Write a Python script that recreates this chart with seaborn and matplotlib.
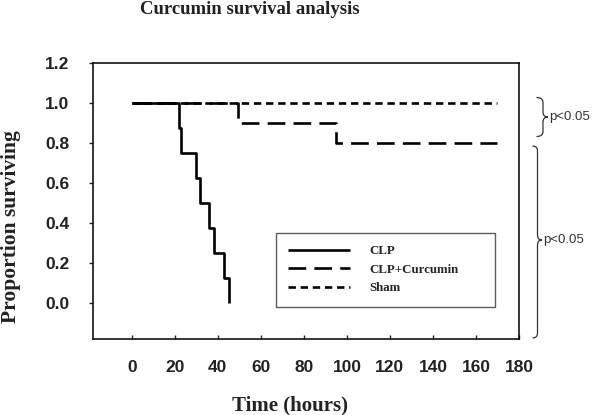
import numpy as np
import pandas as pd
import matplotlib
matplotlib.use("Agg")
import matplotlib.pyplot as plt
from matplotlib.path import Path
from matplotlib.patches import PathPatch
import seaborn as sns

# ---- data ----
groups = ["Sham", "CLP+Curcumin", "CLP"]
sham_t = [0, 170]
sham_s = [1.0, 1.0]
cur_t = [0, 49.5, 95, 170]
cur_s = [1.0, 0.9, 0.8, 0.8]
clp_t = [0, 22, 23, 30, 31.7, 36, 38.4, 43, 45]
clp_s = [1.0, 0.875, 0.75, 0.625, 0.5, 0.375, 0.25, 0.125, 0.0]
legend_order = ["CLP", "CLP+Curcumin", "Sham"]
xticks = [0, 20, 40, 60, 80, 100, 120, 140, 160, 180]
yticks = [0.0, 0.2, 0.4, 0.6, 0.8, 1.0, 1.2]
pval_labels = ["p<0.05", "p<0.05"]

df = pd.concat([
    pd.DataFrame({"t": sham_t, "s": sham_s, "g": "Sham"}),
    pd.DataFrame({"t": cur_t, "s": cur_s, "g": "CLP+Curcumin"}),
    pd.DataFrame({"t": clp_t, "s": clp_s, "g": "CLP"}),
], ignore_index=True)

sns.set_theme(style="white")
plt.rcParams["font.family"] = ["Liberation Sans", "DejaVu Sans"]

W, H = 600, 415
fig = plt.figure(figsize=(6, 4.15), dpi=100)
ax = fig.add_axes([93 / W, 1 - 339 / H, (519 - 93) / W, (339 - 62.7) / H])

dash_map = {"CLP": "", "CLP+Curcumin": (6.7, 3.1), "Sham": (2.8, 1.8)}
for g in groups:
    sub = df[df.g == g]
    sns.lineplot(data=sub, x="t", y="s", ax=ax, color="black", lw=1.9,
                 drawstyle="steps-post", estimator=None, legend=False)
    line = ax.get_lines()[-1]
    line.set_label(g)
    if dash_map[g]:
        line.set_dashes(dash_map[g])
    line.set_solid_capstyle("butt")
    line.set_dash_capstyle("butt")

ax.set_xlim(-18, 180)
ax.set_ylim(-0.1815, 1.2)
ax.set_xticks(xticks)
ax.set_xticklabels([str(v) for v in xticks])
ax.set_yticks(yticks)
ax.set_yticklabels([f"{v:.1f}" for v in yticks])
ax.set_xlabel("")
ax.set_ylabel("")
for sp in ax.spines.values():
    sp.set_color("black")
    sp.set_linewidth(1.1)
ax.tick_params(axis="x", direction="in", length=3, width=1, pad=15,
               labelsize=12.5, colors="#222222", bottom=True)
ax.tick_params(axis="y", direction="out", length=3, width=1, pad=14,
               labelsize=12.5, colors="#222222", left=True)
for lab in ax.get_xticklabels() + ax.get_yticklabels():
    lab.set_fontweight("bold")

lines = {l.get_label(): l for l in ax.get_lines()}
leg = ax.legend([lines[k] for k in legend_order], legend_order,
                loc="upper left",
                bbox_to_anchor=(276 / W, 1 - 233 / H, (495 - 276) / W, 0.0),
                bbox_transform=fig.transFigure, mode="expand", borderaxespad=0,
                frameon=True, fancybox=False, handlelength=4.8,
                handletextpad=1.5, labelspacing=0.5, borderpad=0.95,
                prop={"family": "Liberation Serif", "weight": "bold", "size": 9.3})
leg.get_frame().set_edgecolor("#333333")
leg.get_frame().set_linewidth(1.0)

serif = ["Liberation Serif", "DejaVu Serif"]
fig.text(250 / W, 1 - 9 / H, "Curcumin survival analysis", ha="center", va="center",
         family=serif, weight="bold", fontsize=13.5, color="#222222")
fig.text(290.5 / W, 1 - 405 / H, "Time (hours)", ha="center", va="center",
         family=serif, weight="bold", fontsize=15, color="#222222")
fig.text(11 / W, 1 - 227 / H, "Proportion surviving", ha="center", va="center",
         rotation=90, family=serif, weight="bold", fontsize=15.5, color="#222222")


def brace(x0, xm, xt, ytop, ymid, ybot, r=5):
    def P(x, y):
        return (x / W, 1 - y / H)
    verts = [P(x0, ytop), P(xm, ytop), P(xm, ytop + r),
             P(xm, ymid - r), P(xm, ymid), P(xt, ymid),
             P(xm, ymid), P(xm, ymid + r),
             P(xm, ybot - r), P(xm, ybot), P(x0, ybot)]
    codes = [Path.MOVETO, Path.CURVE3, Path.CURVE3,
             Path.LINETO, Path.CURVE3, Path.CURVE3,
             Path.CURVE3, Path.CURVE3,
             Path.LINETO, Path.CURVE3, Path.CURVE3]
    fig.patches.append(PathPatch(Path(verts, codes), transform=fig.transFigure,
                                 fill=False, lw=0.9, edgecolor="#333333"))


brace(536.5, 543, 548, 97.5, 117, 136.5)
brace(532.5, 537.5, 542, 146, 240, 338)
fig.text(549 / W, 1 - 117 / H, pval_labels[0], ha="left", va="center",
         fontsize=9.5, color="#333333")
fig.text(543 / W, 1 - 240 / H, pval_labels[1], ha="left", va="center",
         fontsize=9.5, color="#333333")

fig.savefig("out.png", dpi=100)
